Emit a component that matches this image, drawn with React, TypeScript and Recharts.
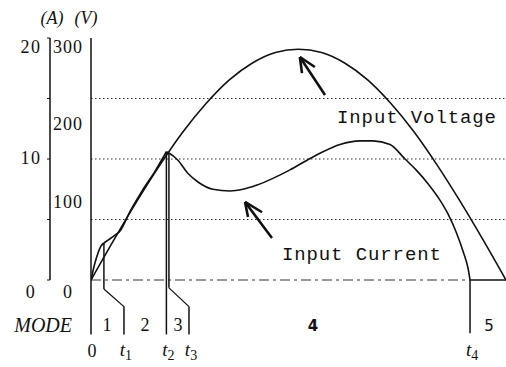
import React from 'react';
import { ComposedChart, Line, XAxis, YAxis, ReferenceLine, ReferenceDot } from 'recharts';

// Phase angle of the rectified half cycle (degrees)
const voltageDeg = [0, 10, 20, 30, 40, 50, 60, 70, 80, 90, 100, 110, 120, 130, 140, 150, 160, 170, 180];
const voltageV = [0, 50, 98, 143, 184, 219, 248, 269, 282, 286, 282, 269, 248, 219, 184, 143, 98, 50, 0];

// Input current, split per mode so the corners stay sharp
const currentMode1Deg = [0, 1.7, 3.0, 4.3, 5.6];
const currentMode1A = [0, 1.4, 2.2, 2.8, 3.06];
const currentMode2Deg = [5.6, 7.4, 10.4, 12.6, 17, 22.1, 27.8, 32.7];
const currentMode2A = [3.06, 3.3, 3.7, 4.05, 5.7, 7.35, 9.0, 10.6];
const currentMode34Deg = [32.7, 33.8, 37.7, 42.1, 46.4, 52.9, 60.3, 65.9, 72.0, 78.9, 86.3, 93.7, 100.6, 108.0, 116.7, 122.3, 129.7, 136.2, 141, 146, 151, 155, 158.5, 161.5, 163.5, 164.4];
const currentMode34A = [10.6, 10.5, 9.9, 8.8, 8.1, 7.5, 7.36, 7.5, 7.85, 8.4, 9.1, 9.9, 10.6, 11.2, 11.5, 11.5, 11.2, 10.0, 9.1, 8.0, 6.7, 5.4, 3.9, 2.3, 1.0, 0];
const currentMode5Deg = [164.4, 180];
const currentMode5A = [0, 0];

// Axis ticks
const aTicks = [0, 5, 10, 15, 20];
const aTickLabels = ['0', '', '10', '', '20'];
const vTicks = [0, 100, 200, 300];
const vTickLabels = ['0', '100', '200', '300'];
const gridA = [5, 10, 15];

// Mode boundaries
const modeEventDeg = [0, 5.6, 32.7, 33.8, 164.4];
const modeEventTopA = [0, 3.06, 10.6, 10.5, 0];
const timeLabelDeg = [0, 14.3, 32.7, 42.5, 164.4];
const timeLabels = ['0', 't1', 't2', 't3', 't4'];
const modeLabelDeg = [6.9, 23.4, 37.7, 96.3, 172.6];
const modeLabels = ['1', '2', '3', '4', '5'];

// Annotations (deg, A)
const voltageArrow = { tail: [101.5, 15.29], tip: [90.6, 18.43], w1: [91.5, 17.1], w2: [97.1, 17.6] };
const currentArrow = { tail: [78.5, 3.47], tip: [66.8, 6.45], w1: [68.1, 5.2], w2: [74.2, 5.6] };
const voltageText = { deg: 106.7, a: 12.98, text: 'Input Voltage' };
const currentText = { deg: 82.8, a: 1.65, text: 'Input Current' };

const zip = (xs: number[], ys: number[], key: string) => xs.map((d, i) => ({ deg: d, [key]: ys[i] }));
const voltageData = zip(voltageDeg, voltageV, 'v');
const cur1 = zip(currentMode1Deg, currentMode1A, 'a');
const cur2 = zip(currentMode2Deg, currentMode2A, 'a');
const cur34 = zip(currentMode34Deg, currentMode34A, 'a');
const cur5 = zip(currentMode5Deg, currentMode5A, 'a');

const SERIF = "'Liberation Serif', 'DejaVu Serif', serif";
const MONO = "'Liberation Mono', 'DejaVu Sans Mono', monospace";
const SANS = "'DejaVu Sans', sans-serif";
const INK = '#111';

// axis ids (V axis sits next to the plot, A axis outside it)
const V_AXIS = 'left-inner';
const A_AXIS = 'left-outer';

const KNEE = -0.75;
const ELBOW = -2.2;
const BOTTOM = -4.5;

const serifStyle = { fontFamily: SERIF };

const ATick = (props: any) => {
  const { x, y, payload } = props;
  const i = aTicks.indexOf(payload.value);
  const label = aTickLabels[i];
  if (!label) return <g />;
  const dy = payload.value === 0 ? 17.5 : payload.value === 20 ? 15 : 5;
  return (
    <text x={x - 16} y={y + dy} textAnchor="middle" style={serifStyle} fontSize={18} letterSpacing={1.5} fill={INK}>
      {label}
    </text>
  );
};

const VTick = (props: any) => {
  const { x, y, payload } = props;
  const i = vTicks.indexOf(payload.value);
  const label = vTickLabels[i];
  const dyMap: Record<number, number> = { 0: 17.5, 100: 9, 200: 11, 300: 15 };
  return (
    <text x={x - 23} y={y + dyMap[payload.value]} textAnchor="middle" style={serifStyle} fontSize={18} letterSpacing={1} fill={INK}>
      {label}
    </text>
  );
};

const XTick = (props: any) => {
  const { x, y, payload } = props;
  const v = payload.value;
  const ti = timeLabelDeg.indexOf(v);
  if (ti >= 0) {
    const lab = timeLabels[ti];
    if (lab.length === 1) {
      return (
        <text x={x + 1} y={y + 77} textAnchor="middle" style={serifStyle} fontSize={18} fill={INK}>
          {lab}
        </text>
      );
    }
    return (
      <text x={x + 2} y={y + 76} textAnchor="middle" style={serifStyle} fontSize={19} fill={INK}>
        <tspan fontStyle="italic">{lab[0]}</tspan>
        <tspan fontSize={14} dy={4}>{lab.slice(1)}</tspan>
      </text>
    );
  }
  const mi = modeLabelDeg.indexOf(v);
  const serif = mi < 3;
  return (
    <text
      x={x}
      y={y + 51}
      textAnchor="middle"
      style={{ fontFamily: serif ? SERIF : SANS }}
      fontSize={serif ? 18 : 15}
      fontWeight={mi === 3 ? 'bold' : 'normal'}
      fill={INK}
    >
      {modeLabels[mi]}
    </text>
  );
};

const axisUnitLabel = (text: string, dx: number) => (props: any) => {
  const vb = props.viewBox || {};
  return (
    <text x={vb.x + vb.width + dx} y={vb.y - 14} textAnchor="middle" style={serifStyle} fontStyle="italic" fontSize={18} fill={INK}>
      {text}
    </text>
  );
};

const modeLabelContent = (props: any) => {
  const vb = props.viewBox || {};
  return (
    <text x={vb.x - 19} y={vb.y + 52} textAnchor="end" style={serifStyle} fontStyle="italic" fontSize={20} fill={INK}>
      MODE
    </text>
  );
};

const textShape = (text: string) => (props: any) => (
  <text x={props.cx} y={props.cy} style={{ fontFamily: MONO }} fontSize={19} letterSpacing={0.9} fill={INK}>
    {text}
  </text>
);

const seg = (p: number[], q: number[], key: string, w: number) => (
  <ReferenceLine
    key={key}
    yAxisId={A_AXIS}
    segment={[{ x: p[0], y: p[1] }, { x: q[0], y: q[1] }]}
    stroke={INK}
    strokeWidth={w}
    ifOverflow="visible"
  />
);

const modeSegments: React.ReactNode[] = [];
modeEventDeg.forEach((d, i) => {
  const lab = timeLabelDeg[i];
  const bottom = i === 4 ? -4.4 : BOTTOM;
  if (Math.abs(lab - d) < 0.01) {
    modeSegments.push(seg([d, modeEventTopA[i]], [d, bottom], `m${i}`, 1.5));
  } else {
    const knee = i === 3 ? -0.65 : KNEE;
    modeSegments.push(seg([d, modeEventTopA[i]], [d, knee], `m${i}a`, 1.5));
    modeSegments.push(seg([d, knee], [lab, ELBOW], `m${i}b`, 1.3));
    modeSegments.push(seg([lab, ELBOW], [lab, bottom], `m${i}c`, 1.5));
  }
});

const arrowSegs = (ar: any, k: string) => [
  seg(ar.tail, ar.tip, `${k}1`, 2.6),
  seg(ar.tip, ar.w1, `${k}2`, 2.6),
  seg(ar.tip, ar.w2, `${k}3`, 2.6),
];

export default function App() {
  return (
    <div style={{ position: 'absolute', left: 0, top: 0, width: 506, height: 367, background: '#fff' }}>
      <ComposedChart width={506} height={367} margin={{ top: 38, right: 0, bottom: 0, left: 0 }}>
        <XAxis
          dataKey="deg"
          type="number"
          domain={[0, 180]}
          allowDataOverflow
          ticks={[...timeLabelDeg, ...modeLabelDeg]}
          interval={0}
          height={87}
          axisLine={false}
          tickLine={false}
          tickSize={0}
          tickMargin={0}
          tick={XTick}
          label={{ content: modeLabelContent }}
        />
        <YAxis
          yAxisId={V_AXIS}
          type="number"
          domain={[0, 300]}
          ticks={vTicks}
          width={41}
          tickLine={false}
          tickSize={0}
          tickMargin={0}
          axisLine={{ stroke: INK, strokeWidth: 1.5 }}
          tick={VTick}
          label={{ content: axisUnitLabel('(V)', -5) }}
        />
        <YAxis
          yAxisId={A_AXIS}
          type="number"
          domain={[0, 20]}
          ticks={aTicks}
          width={50}
          tickSize={3}
          tickMargin={0}
          tickLine={{ stroke: INK, strokeWidth: 1 }}
          axisLine={{ stroke: INK, strokeWidth: 1.5 }}
          tick={ATick}
          label={{ content: axisUnitLabel('(A)', 2) }}
        />
        {gridA.map((g) => (
          <ReferenceLine key={`g${g}`} yAxisId={A_AXIS} y={g} stroke="#333" strokeWidth={1} strokeDasharray="1.5 2.5" />
        ))}
        <ReferenceLine
          yAxisId={A_AXIS}
          segment={[{ x: 0, y: 0 }, { x: modeEventDeg[4], y: 0 }]}
          stroke="#333"
          strokeWidth={1}
          strokeDasharray="10 4 3 4"
        />
        {modeSegments}
        {arrowSegs(voltageArrow, 'va')}
        {arrowSegs(currentArrow, 'ca')}
        <ReferenceDot yAxisId={A_AXIS} x={voltageText.deg} y={voltageText.a} r={0} shape={textShape(voltageText.text)} />
        <ReferenceDot yAxisId={A_AXIS} x={currentText.deg} y={currentText.a} r={0} shape={textShape(currentText.text)} />
        <Line yAxisId={V_AXIS} data={voltageData} dataKey="v" type="monotone" stroke={INK} strokeWidth={1.6} dot={false} isAnimationActive={false} />
        <Line yAxisId={A_AXIS} data={cur1} dataKey="a" type="monotone" stroke={INK} strokeWidth={1.6} dot={false} isAnimationActive={false} />
        <Line yAxisId={A_AXIS} data={cur2} dataKey="a" type="monotone" stroke={INK} strokeWidth={1.6} dot={false} isAnimationActive={false} />
        <Line yAxisId={A_AXIS} data={cur34} dataKey="a" type="monotone" stroke={INK} strokeWidth={1.6} dot={false} isAnimationActive={false} />
        <Line yAxisId={A_AXIS} data={cur5} dataKey="a" type="monotone" stroke={INK} strokeWidth={1.6} dot={false} isAnimationActive={false} />
      </ComposedChart>
    </div>
  );
}
